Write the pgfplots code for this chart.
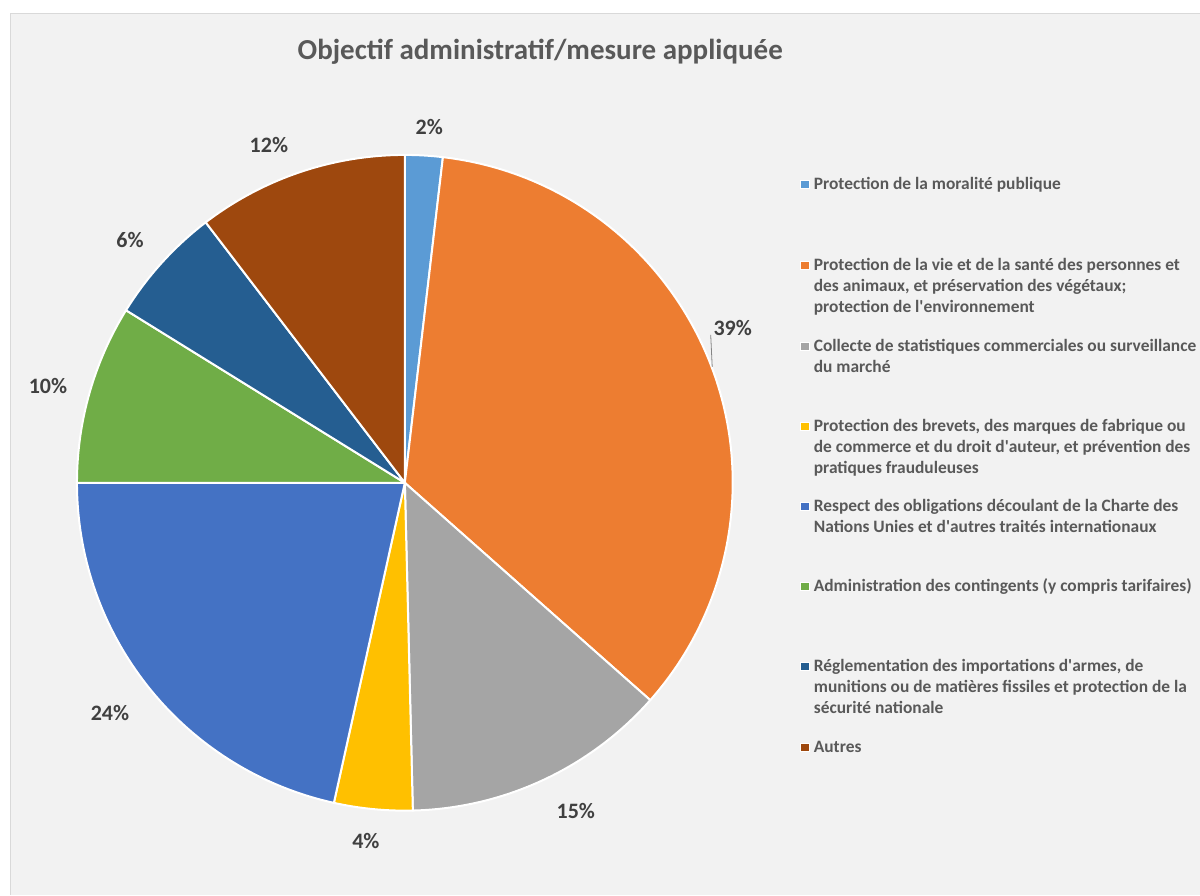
\documentclass[border=0pt]{standalone}
\usepackage{pgfplots}
\usepackage{pgfplotstable}
\pgfplotsset{compat=1.18}
\usepackage{fontspec}
\setmainfont{Carlito}

\definecolor{c1}{HTML}{5B9BD5}
\definecolor{c2}{HTML}{ED7D31}
\definecolor{c3}{HTML}{A5A5A5}
\definecolor{c4}{HTML}{FFC000}
\definecolor{c5}{HTML}{4472C4}
\definecolor{c6}{HTML}{70AD47}
\definecolor{c7}{HTML}{255E91}
\definecolor{c8}{HTML}{9E480E}
\definecolor{bgbox}{HTML}{F2F2F2}
\definecolor{boxline}{HTML}{D9D9D9}
\definecolor{legtext}{HTML}{595959}
\definecolor{labtext}{HTML}{404040}

% share = size of the slice (percent of the circle), pct = printed label
% lx, ly = label position in pixels (y from the top)
\pgfplotstableread[col sep=comma]{
share,pct,lx,ly,col
1.853,2,429.5,127,c1
34.683,39,733,328,c2
13.075,15,576,811,c3
3.861,4,366,841,c4
21.528,24,110,713,c5
8.819,10,48,386,c6
5.792,6,130,240,c7
10.389,12,269,145,c8
}\piedata
\pgfplotstablecreatecol[create col/expr accum={\pgfmathaccuma+\thisrow{share}}{0}]{cum}\piedata

\newcommand\q{\textquotesingle}
\newcommand\legfont{\fontsize{17.4bp}{20bp}\selectfont\bfseries}
% one legend line, baseline given in pixels from the top
\newcommand\legline[2]{%
  \pgfmathsetmacro\yy{895-#1}%
  \node[anchor=base west, inner sep=0pt, font=\legfont, text=legtext] at (axis cs:814,\yy) {#2};}
\newcommand\legmark[2]{%
  \pgfmathsetmacro\yy{900-#1}%
  \filldraw[fill=#2, draw=white, line width=0.8bp] (axis cs:805,\yy) +(-4.3bp,-4.3bp) rectangle +(4.3bp,4.3bp);}

\begin{document}
\begin{tikzpicture}
\begin{axis}[
    x=1bp, y=1bp,
    xmin=0, xmax=1200,
    ymin=0, ymax=895,
    hide axis,
    scale only axis,
    clip=false,
    anchor=south west, at={(0,0)},
]

% background and chart area
\pgfplotsextra{
  \fill[white] (axis cs:0,0) rectangle (axis cs:1200,895);
  \fill[bgbox] (axis cs:10,0) rectangle (axis cs:1200,882);
  \draw[boxline, line width=1bp] (axis cs:10.5,0) -- (axis cs:10.5,881.5) -- (axis cs:1200,881.5);
}

% slices, clockwise from the top
\pgfplotsextra{
  \pgfplotstablegetrowsof{\piedata}%
  \pgfmathtruncatemacro\nlast{\pgfplotsretval-1}%
  \foreach \i in {0,...,\nlast}{%
    \pgfplotstablegetelem{\i}{share}\of\piedata
    \pgfmathsetmacro\sh{\pgfplotsretval}%
    \pgfplotstablegetelem{\i}{cum}\of\piedata
    \pgfmathsetmacro\cu{\pgfplotsretval}%
    \pgfplotstablegetelem{\i}{col}\of\piedata
    \edef\co{\pgfplotsretval}%
    \pgfmathsetmacro\as{90-3.6*(\cu-\sh)}%
    \pgfmathsetmacro\ae{90-3.6*\cu}%
    \filldraw[fill=\co, draw=white, line width=2bp, line join=round]
      (axis cs:405,412) -- ++(\as:328bp) arc[start angle=\as, end angle=\ae, radius=328bp] -- cycle;
  }
}

% leader line of the 39% label
\pgfplotsextra{
  \draw[c3!80!black, line width=0.8bp] (axis cs:711,560) -- (axis cs:712.5,528);
}

% data labels
\addplot[only marks, mark=*, mark size=0pt, mark options={draw=none, fill=none},
    point meta=explicit symbolic,
    nodes near coords={\pgfplotspointmeta\%},
    nodes near coords align=center,
    every node near coord/.append style={anchor=center, inner sep=0pt,
        font=\fontsize{22bp}{26bp}\selectfont\bfseries, text=labtext},
] table[x=lx, y expr=895-\thisrow{ly}, meta=pct] {\piedata};

% title
\pgfplotsextra{
  \node[anchor=base, inner sep=0pt, font=\fontsize{29bp}{33bp}\selectfont\bfseries, text=legtext]
    at (axis cs:540.5,835) {Objectif administratif/mesure appliquée};
}

% legend
\pgfplotsextra{
  \legmark{189.3}{c1}
  \legline{189.3}{Protection de la moralité publique}
  \legmark{270.7}{c2}
  \legline{270.7}{Protection de la vie et de la santé des personnes et}
  \legline{291.7}{des animaux, et préservation des végétaux;}
  \legline{312.7}{protection de l\q environnement}
  \legmark{351.7}{c3}
  \legline{351.7}{Collecte de statistiques commerciales ou surveillance}
  \legline{372.7}{du marché}
  \legmark{431.7}{c4}
  \legline{431.7}{Protection des brevets, des marques de fabrique ou}
  \legline{452.7}{de commerce et du droit d\q auteur, et prévention des}
  \legline{473.7}{pratiques frauduleuses}
  \legmark{511.7}{c5}
  \legline{511.7}{Respect des obligations découlant de la Charte des}
  \legline{532.7}{Nations Unies et d\q autres traités internationaux}
  \legmark{591.7}{c6}
  \legline{591.7}{Administration des contingents (y compris tarifaires)}
  \legmark{671.7}{c7}
  \legline{671.7}{Réglementation des importations d\q armes, de}
  \legline{692.7}{munitions ou de matières fissiles et protection de la}
  \legline{713.7}{sécurité nationale}
  \legmark{752.7}{c8}
  \legline{752.7}{Autres}
}
\end{axis}
\end{tikzpicture}
\end{document}
